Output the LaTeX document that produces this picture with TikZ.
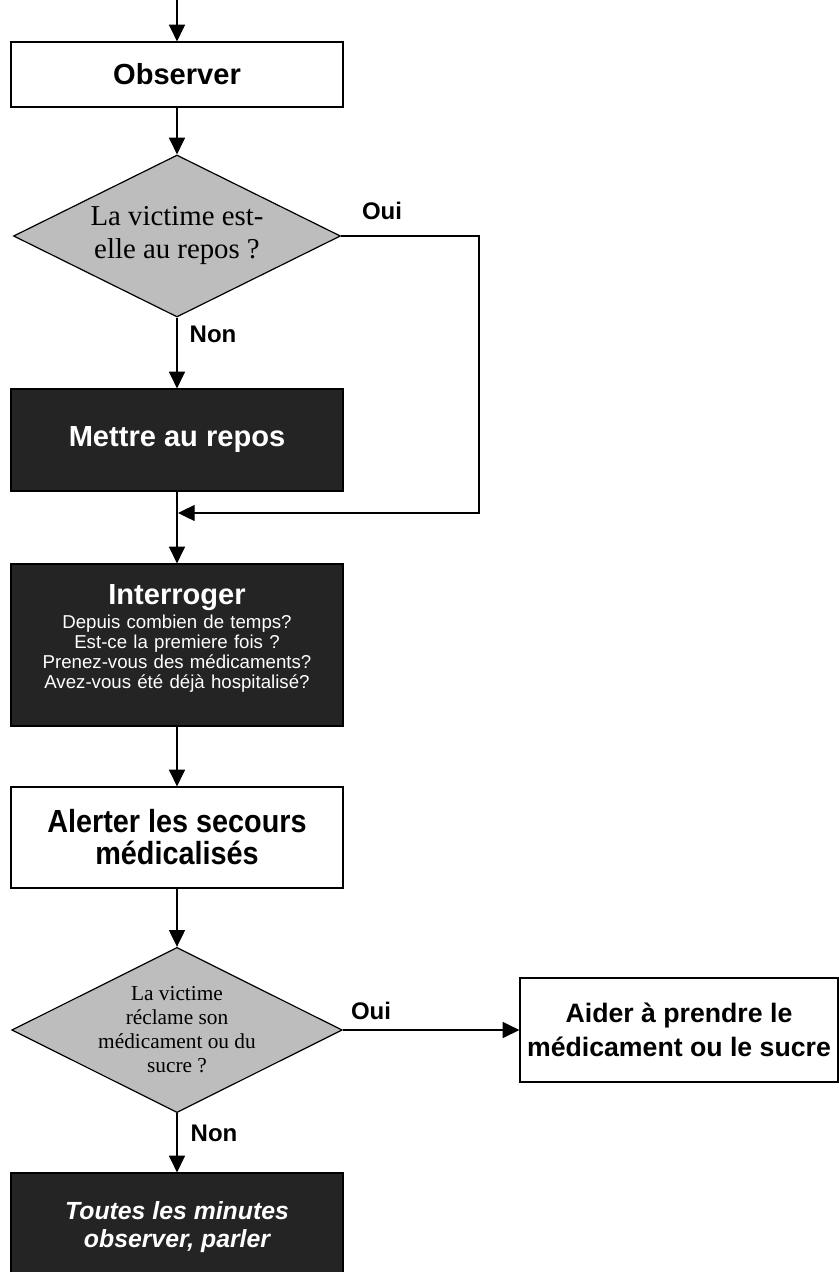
\documentclass[tikz,border=0pt]{standalone}
\usepackage{fontspec}
\setmainfont{Liberation Sans}
\newfontfamily\serifq{Liberation Serif}
\newfontfamily\narrowf[FakeStretch=0.9]{Liberation Sans}
\usetikzlibrary{shapes.geometric,arrows.meta}
\begin{document}
\begin{tikzpicture}[x=0.75pt,y=-0.75pt,
  lw/.style={line width=0.9pt},
  arr/.style={lw,-{Triangle[length=12.5pt,width=12pt]}},
  whitebox/.style={draw,lw,fill=white,minimum width=249pt,inner sep=0pt,align=center},
  darkbox/.style={draw,lw,fill=black!86,text=white,minimum width=249pt,inner sep=0pt,align=center},
  decision/.style={diamond,draw,lw,fill=black!26,inner sep=0pt,aspect=2,align=center},
  lbl/.style={font=\fontsize{18}{20}\selectfont\bfseries,inner sep=0pt}]
\useasboundingbox (0,0) rectangle (839,1272);
\clip (0,0) rectangle (839,1272);

% nodes
\node[whitebox,minimum height=48.75pt,font=\fontsize{21.8}{26}\selectfont\bfseries] (obs) at (177,74.5) {Observer};
\node[decision,minimum width=245.25pt,minimum height=121.5pt,font=\serifq\fontsize{21.6}{24.75}\selectfont] (d1) at (177,236) {La victime est-\\elle au repos ?};
\node[darkbox,minimum height=76.5pt,font=\fontsize{21.8}{26}\selectfont\bfseries] (mettre) at (177,440) {Mettre au repos};
\node[darkbox,minimum height=121.5pt,text width=249pt,font=\fontsize{14}{15}\selectfont] (inter) at (177,645)
  {{\fontsize{21.8}{24}\selectfont\bfseries Interroger\par}\vspace{3pt}
   Depuis combien de temps?\\
   Est-ce la premiere fois ?\\
   Prenez-vous des médicaments?\\
   Avez-vous été déjà hospitalisé?\rule[-13pt]{0pt}{13pt}};
\node[whitebox,minimum height=75.75pt,font=\narrowf\fontsize{24}{24}\selectfont\bfseries] (alert) at (177,837.5) {Alerter les secours\\médicalisés};
\node[decision,minimum width=243.75pt,minimum height=117pt,font=\serifq\fontsize{16}{18}\selectfont] (d2) at (177,1030) {La victime\\réclame son\\médicament ou du\\sucre ?};
\node[whitebox,minimum width=238.5pt,minimum height=78pt,font=\fontsize{20}{26}\selectfont\bfseries] (aider) at (679,1030) {Aider à prendre le\\médicament ou le sucre};
\node[darkbox,minimum height=81pt,font=\fontsize{18.6}{21}\selectfont\bfseries\itshape] (last) at (177,1227) {Toutes les minutes\\observer, parler};

% labels
\node[lbl] (oui1) at (382,211) {Oui};
\node[lbl] (non1) at (213,334) {Non};
\node[lbl] (oui2) at (371,1011) {Oui};
\node[lbl] (non2) at (214,1133) {Non};

% connectors
\coordinate (top) at (177,0);
\coordinate (fb) at (479,513);
\coordinate (join) at (178,513);
\draw[arr] (top) -- (obs.north);
\draw[arr] (obs.south) -- (d1.north);
\draw[arr] (d1.south) -- (mettre.north);
\draw[arr] (d1.east) -| (fb) -- (join);
\draw[arr] (mettre.south) -- (inter.north);
\draw[arr] (inter.south) -- (alert.north);
\draw[arr] (alert.south) -- (d2.north);
\draw[arr] (d2.east) -- (aider.west);
\draw[arr] (d2.south) -- (last.north);
\end{tikzpicture}
\end{document}
